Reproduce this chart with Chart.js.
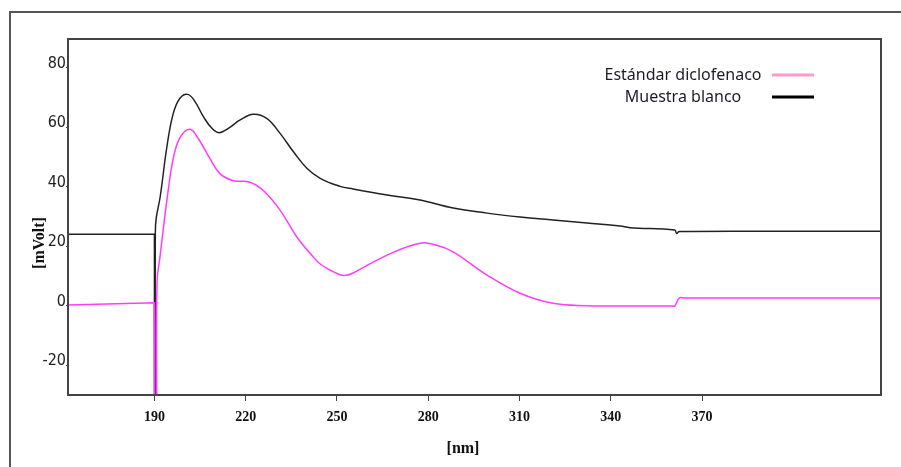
<!DOCTYPE html>
<html>
<head>
<meta charset="utf-8">
<title>Estándar diclofenaco / Muestra blanco</title>
<script src="https://cdn.jsdelivr.net/npm/chart.js@4.4.1/dist/chart.umd.min.js"></script>
<style>
  html, body { margin: 0; padding: 0; background: #fff; }
  #wrap { position: relative; width: 901px; height: 467px; }
</style>
</head>
<body>
<div id="wrap"><canvas id="spectrumChart" width="901" height="467"></canvas></div>
<script>
"use strict";

// baseline before the lamp switch-on at 190 nm, then the drop off the scale
const blancoBaseNm = [161, 190.0, 190.05];
const blancoBaseMv = [24.0, 24.0, -40];
const diclofenacoBaseNm = [161, 189.9, 190.0];
const diclofenacoBaseMv = [0.2, 1.0, -40];

// trace from the bottom of the scale onwards (nm -> mVolt)
const blancoNm = [190.2, 190.3, 190.6, 191.9, 194.1, 196.2, 198.4, 201.0, 203.4, 206.1, 208.9, 211.3, 214.3, 218.2, 222.5, 226.9, 231.3, 235.7, 240.1, 244.5, 251.0, 255.3, 266.5, 277.3, 288.2, 299.3, 310.2, 321.0, 332.2, 343.0, 346.3, 361.0, 361.6, 362.5, 400, 429];
const blancoMv = [-40, 24.5, 29.5, 36.6, 53.4, 64.6, 69.7, 71.0, 68.5, 63.5, 59.6, 58.1, 59.6, 62.4, 64.3, 62.9, 57.9, 51.7, 46.2, 42.8, 40.1, 39.2, 37.2, 35.5, 32.8, 31.1, 29.8, 28.8, 27.8, 26.8, 26.2, 25.4, 24.3, 24.9, 25.0, 25.0];

const diclofenacoNm = [190.8, 190.85, 191.9, 193.3, 194.5, 196.2, 198.4, 201.7, 204.5, 208.3, 211.6, 216.0, 221.4, 225.8, 231.3, 236.8, 242.2, 244.5, 247.7, 251.0, 253.0, 255.3, 266.5, 277.3, 282.8, 288.2, 299.3, 310.2, 321.0, 332.2, 343.0, 352.0, 360.0, 361.0, 362.5, 364.0, 380, 429];
const diclofenacoMv = [-40, 7.5, 17.0, 29.0, 38.5, 49.5, 56.5, 59.3, 56.0, 49.3, 44.3, 42.0, 41.5, 38.7, 32.1, 23.1, 16.4, 14.0, 12.0, 10.4, 10.2, 11.0, 17.0, 21.0, 20.3, 18.1, 10.3, 4.2, 0.8, 0.0, -0.1, -0.1, -0.1, -0.1, 2.6, 2.6, 2.6, 2.6];

const nmTicks = [190, 220, 250, 280, 310, 340, 370];
const mvTicks = [-20, 0, 20, 40, 60, 80];
const seriesNames = ["Estándar diclofenaco", "Muestra blanco"];

function toPoints(xs, ys) {
  let pts = [];
  for (let i = 0; i < xs.length; i++) {
    pts.push({ x: xs[i], y: ys[i] });
  }
  return pts;
}

const framePlugin = {
  id: "frame",
  beforeDraw(chart) {
    const ctx = chart.ctx;
    ctx.save();
    ctx.fillStyle = "#fff";
    ctx.fillRect(0, 0, chart.width, chart.height);
    // outer picture frame (only top and left edges are visible)
    ctx.strokeStyle = "#555";
    ctx.lineWidth = 2;
    ctx.beginPath();
    ctx.moveTo(chart.width, 12);
    ctx.lineTo(10, 12);
    ctx.lineTo(10, chart.height);
    ctx.stroke();
    ctx.restore();
  },
  afterDraw(chart) {
    const ctx = chart.ctx;
    const a = chart.chartArea;
    ctx.save();
    ctx.strokeStyle = "#444";
    ctx.lineWidth = 2;
    ctx.strokeRect(a.left, a.top, a.right - a.left, a.bottom - a.top);

    // axis titles
    ctx.fillStyle = "#111";
    ctx.font = "bold 16px 'Liberation Serif', 'Times New Roman', serif";
    ctx.textAlign = "center";
    ctx.textBaseline = "middle";
    ctx.fillText("[nm]", 463, 449);
    ctx.save();
    ctx.translate(40, 243);
    ctx.rotate(-Math.PI / 2);
    ctx.fillText("[mVolt]", 0, 0);
    ctx.restore();

    // legend: text first, sample line after
    const rows = [75, 97];
    const legendColors = ["#ff99cc", "#000"];
    ctx.font = "16px 'Noto Sans', sans-serif";
    ctx.fillStyle = "#1c1c28";
    for (let i = 0; i < seriesNames.length; i++) {
      ctx.fillText(seriesNames[i], 683, rows[i]);
      ctx.strokeStyle = legendColors[i];
      ctx.lineWidth = 3;
      ctx.beginPath();
      ctx.moveTo(772, rows[i]);
      ctx.lineTo(814, rows[i]);
      ctx.stroke();
    }
    ctx.restore();
  },
};

const pinkLine = "#ff3cff";
const blackLine = "#222";

const spectrumData = {
  datasets: [
    {
      label: seriesNames[0],
      data: toPoints(diclofenacoNm, diclofenacoMv),
      borderColor: pinkLine,
      borderWidth: 1.5,
      tension: 0.4,
    },
    {
      label: seriesNames[0] + " (base)",
      data: toPoints(diclofenacoBaseNm, diclofenacoBaseMv),
      borderColor: pinkLine,
      borderWidth: 1.5,
      tension: 0,
    },
    {
      label: seriesNames[1],
      data: toPoints(blancoNm, blancoMv),
      borderColor: blackLine,
      borderWidth: 1.5,
      tension: 0.4,
    },
    {
      label: seriesNames[1] + " (base)",
      data: toPoints(blancoBaseNm, blancoBaseMv),
      borderColor: blackLine,
      borderWidth: 1.5,
      tension: 0,
    },
  ],
};

const spectrumConfig = {
  type: "line",
  data: spectrumData,
  options: {
    responsive: false,
    animation: false,
    devicePixelRatio: 1,
    layout: { padding: { top: 39, right: 20, left: 0, bottom: 0 } },
    elements: {
      point: { radius: 0 },
    },
    plugins: {
      legend: { display: false },
      title: { display: false },
      tooltip: { enabled: false },
    },
    scales: {
      x: {
        type: "linear",
        min: 161.6,
        max: 428.8,
        afterFit: (s) => { s.height = 72; },
        afterBuildTicks: (s) => { s.ticks = nmTicks.map((v) => ({ value: v })); },
        border: { display: false },
        grid: { drawOnChartArea: false, drawTicks: true, tickLength: 6, color: "#444" },
        ticks: {
          padding: 8,
          color: "#111",
          font: { family: "'Liberation Serif', 'Times New Roman', serif", size: 14, weight: "bold" },
        },
      },
      y: {
        min: -30,
        max: 89.6,
        afterFit: (s) => { s.width = 68; },
        afterBuildTicks: (s) => { s.ticks = mvTicks.map((v) => ({ value: v })); },
        border: { display: false },
        grid: { drawOnChartArea: false, drawTicks: true, tickLength: 2, color: "#444" },
        ticks: {
          padding: 0,
          labelOffset: -4,
          color: "#222",
          font: { family: "'Liberation Sans Narrow', 'DejaVu Sans Condensed', sans-serif", size: 16 },
        },
      },
    },
  },
  plugins: [framePlugin],
};

const spectrumChart = new Chart(document.getElementById("spectrumChart"), spectrumConfig);
</script>
</body>
</html>
